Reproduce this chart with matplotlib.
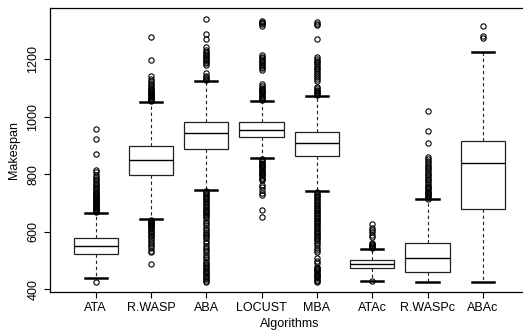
import matplotlib
matplotlib.use('Agg')
import matplotlib.pyplot as plt

plt.rcParams['font.family'] = ['Liberation Sans', 'DejaVu Sans']

algorithms = ['ATA', 'R.WASP', 'ABA', 'LOCUST', 'MBA', 'ATAc', 'R.WASPc', 'ABAc']
whislo = [440, 644, 746, 856, 743, 430, 426, 426]
q1 = [523, 798, 886, 930, 864, 473, 460, 679]
median = [549, 849, 944, 954, 908, 488, 508, 838]
q3 = [578, 899, 981, 980, 946, 501, 562, 915]
whishi = [664, 1049, 1123, 1053, 1070, 541, 712, 1223]

fliers_ATA = [426, 668, 671, 674, 677, 680, 683, 686, 689, 692, 695, 698, 701, 704,
              707, 710, 713, 716, 719, 722, 725, 728, 731, 735, 739, 743, 747, 751,
              756, 761, 766, 772, 778, 784, 791, 798, 806, 813, 871, 922, 957]
fliers_RWASP = [488, 528, 534, 542, 550, 558, 565, 572, 578, 584, 590, 595, 600, 604,
                608, 612, 616, 620, 623, 626, 629, 632, 635, 638, 641,
                1053, 1056, 1059, 1062, 1065, 1068, 1071, 1074, 1077, 1080, 1083,
                1086, 1089, 1092, 1096, 1100, 1105, 1110, 1116, 1122, 1130, 1140,
                1196, 1275]
fliers_ABA = [742, 737, 732, 727, 722, 717, 712, 707, 702, 697, 692, 687, 682, 677,
              672, 667, 662, 657, 652, 646, 638, 630, 622, 614, 606, 598, 592, 587,
              582, 578, 568, 560, 552, 544, 536, 528, 520, 512, 505, 495, 490, 485,
              480, 475, 470, 465, 460, 455, 450, 445, 440, 435, 430, 426,
              1127, 1131, 1136, 1142, 1150, 1180, 1185, 1190, 1195, 1200, 1205,
              1210, 1215, 1220, 1226, 1232, 1242, 1270, 1288, 1339]
fliers_LOCUST = [1057, 1061, 1065, 1069, 1073, 1077, 1081, 1085, 1089, 1093, 1097,
                 1101, 1106, 1112, 1163, 1168, 1173, 1178, 1183, 1188, 1193, 1198,
                 1203, 1208, 1213, 1316, 1320, 1324, 1328, 1332,
                 852, 848, 844, 840, 836, 832, 828, 824, 820, 816, 812, 808, 804,
                 800, 796, 792, 788, 784, 780, 762, 755, 745, 736, 728, 676, 650]
fliers_MBA = [1074, 1078, 1082, 1086, 1090, 1094, 1098, 1102, 1122, 1130, 1138,
              1146, 1152, 1158, 1164, 1170, 1176, 1182, 1188, 1194, 1200, 1206,
              1270, 1318, 1322, 1328,
              739, 734, 729, 724, 719, 714, 709, 704, 699, 694, 689, 684, 679, 674,
              669, 664, 659, 654, 649, 644, 639, 634, 629, 624, 619, 614, 609, 604,
              599, 594, 589, 584, 579, 574, 569, 561, 553, 545, 537, 529, 509, 500,
              491, 478, 474, 470, 466, 462, 458, 454, 450, 446, 442, 438, 434, 430, 426]
fliers_ATAc = [428, 545, 548, 551, 554, 557, 560, 582, 590, 598, 606, 614, 626]
fliers_RWASPc = [715, 719, 723, 727, 731, 735, 739, 743, 747, 751, 755, 760, 766,
                 772, 778, 784, 790, 796, 802, 808, 814, 820, 826, 832, 838, 845,
                 852, 861, 908, 950, 1020]
fliers_ABAc = [1273, 1281, 1315]

fliers = [fliers_ATA, fliers_RWASP, fliers_ABA, fliers_LOCUST, fliers_MBA,
          fliers_ATAc, fliers_RWASPc, fliers_ABAc]

stats = []
for i, name in enumerate(algorithms):
    stats.append(dict(label=name, med=median[i], q1=q1[i], q3=q3[i],
                      whislo=whislo[i], whishi=whishi[i], fliers=fliers[i]))

fig = plt.figure(figsize=(5.23, 3.31), dpi=100)
ax = fig.add_axes([50.35 / 523, 39 / 331, 477.8 / 523, 284.5 / 331])

ax.bxp(stats, positions=range(1, len(algorithms) + 1), widths=0.8, capwidths=0.4,
       patch_artist=True,
       boxprops=dict(facecolor='white', edgecolor='#222222', linewidth=0.9),
       medianprops=dict(color='black', linewidth=1.0),
       whiskerprops=dict(color='#222222', linewidth=0.8, linestyle=(0, (3, 2.5))),
       capprops=dict(color='black', linewidth=1.8),
       flierprops=dict(marker='o', markerfacecolor='none', markeredgecolor='black',
                       markersize=3.8, markeredgewidth=0.8))

ax.set_xlim(0.18, 8.82)
ax.set_ylim(390.6, 1379)
ax.set_yticks([400, 600, 800, 1000, 1200])
for lab in ax.get_yticklabels():
    lab.set_rotation(90)
    lab.set_va('center')
ax.tick_params(direction='out', length=4, width=0.8, labelsize=9, color='black')
ax.tick_params(axis='x', pad=3)
ax.tick_params(axis='y', pad=4)
for s in ax.spines.values():
    s.set_linewidth(0.9)
ax.spines['right'].set_visible(False)
ax.set_xlabel('Algorithms', fontsize=9, labelpad=3)
ax.set_ylabel('Makespan', fontsize=9, labelpad=5)

fig.savefig('out.png', dpi=100)
